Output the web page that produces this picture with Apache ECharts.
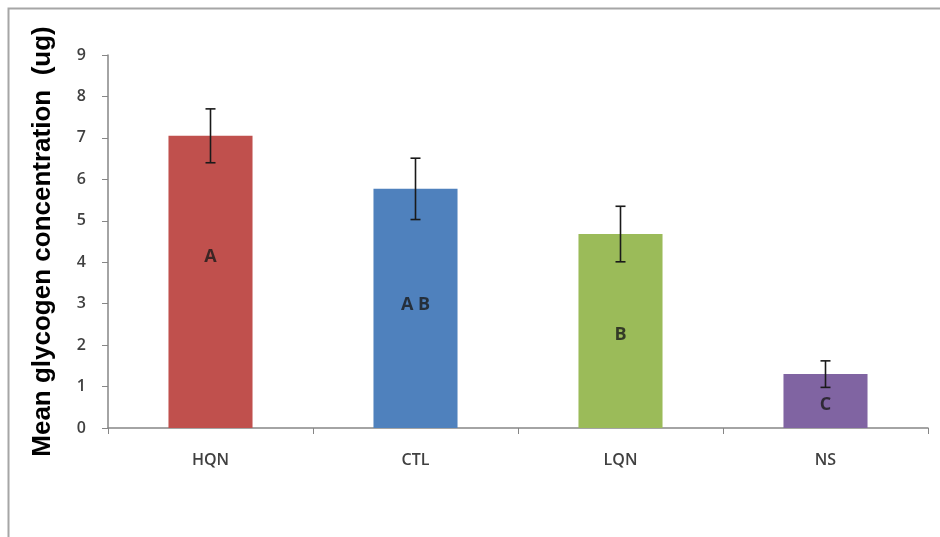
<!DOCTYPE html>
<html><head><meta charset="utf-8">
<script src="https://cdn.jsdelivr.net/npm/echarts@6/dist/echarts.min.js"></script>
<style>html,body{margin:0;padding:0;background:#fff}#c{width:940px;height:537px}</style>
</head><body><div id="c"></div>
<script>
const categories = ['HQN', 'CTL', 'LQN', 'NS'];
const means = [7.05, 5.77, 4.68, 1.30];
const errors = [0.65, 0.74, 0.67, 0.32];
const colors = ['#C0504D', '#4F81BD', '#9BBB59', '#8064A2'];
const groupLetters = ['A', 'A B', 'B', 'C'];
const letterY = [4.13, 2.97, 2.24, 0.55];
const yTicks = [0, 1, 2, 3, 4, 5, 6, 7, 8, 9];

const chart = echarts.init(document.getElementById('c'));
chart.setOption({
  backgroundColor: '#fff',
  animation: false,
  graphic: [{
    type: 'rect', shape: {x: 8.5, y: 8.5, width: 940, height: 540},
    style: {fill: 'none', stroke: '#a6a6a6', lineWidth: 2}, z: -1
  }],
  grid: {left: 108, right: 12, top: 55, bottom: 109},
  xAxis: {
    type: 'category', data: categories,
    axisLine: {lineStyle: {color: '#868686', width: 1.5}},
    axisTick: {show: true, length: 6, lineStyle: {color: '#868686'}},
    axisLabel: {color: '#404040', fontSize: 16, fontWeight: 600, margin: 24, fontFamily: 'Open Sans'}
  },
  yAxis: {
    type: 'value', min: yTicks[0], max: yTicks[yTicks.length - 1], interval: 1,
    name: 'Mean glycogen concentration  (ug)', nameLocation: 'middle', nameGap: 52,
    nameTextStyle: {fontSize: 26, fontWeight: 'bold', color: '#000', fontFamily: 'Liberation Sans'},
    axisLine: {show: true, lineStyle: {color: '#868686', width: 1.5}},
    axisTick: {show: true, length: 6, inside: false, lineStyle: {color: '#868686'}},
    axisLabel: {color: '#404040', fontSize: 16, fontWeight: 600, margin: 22, fontFamily: 'Open Sans'},
    splitLine: {show: false}
  },
  series: [
    {
      type: 'bar', barWidth: '41%',
      data: means.map((v, i) => ({value: v, itemStyle: {color: colors[i]}}))
    },
    {
      type: 'custom',
      data: means.map((v, i) => [i, v - errors[i], v + errors[i]]),
      renderItem: function (params, api) {
        const lo = api.coord([api.value(0), api.value(1)]);
        const hi = api.coord([api.value(0), api.value(2)]);
        const hw = 5;
        const st = {stroke: '#1a1a1a', lineWidth: 1.6};
        return {type: 'group', children: [
          {type: 'line', shape: {x1: hi[0], y1: hi[1], x2: lo[0], y2: lo[1]}, style: st},
          {type: 'line', shape: {x1: hi[0] - hw, y1: hi[1], x2: hi[0] + hw, y2: hi[1]}, style: st},
          {type: 'line', shape: {x1: lo[0] - hw, y1: lo[1], x2: lo[0] + hw, y2: lo[1]}, style: st}
        ]};
      },
      z: 3
    },
    {
      type: 'scatter', symbolSize: 0,
      data: letterY.map((y, i) => [i, y]),
      label: {
        show: true, position: 'inside',
        formatter: p => groupLetters[p.dataIndex],
        fontSize: 18, fontWeight: 'bold', color: '#1a1a1a', fontFamily: 'Open Sans'
      },
      z: 4
    }
  ]
});
</script></body></html>
